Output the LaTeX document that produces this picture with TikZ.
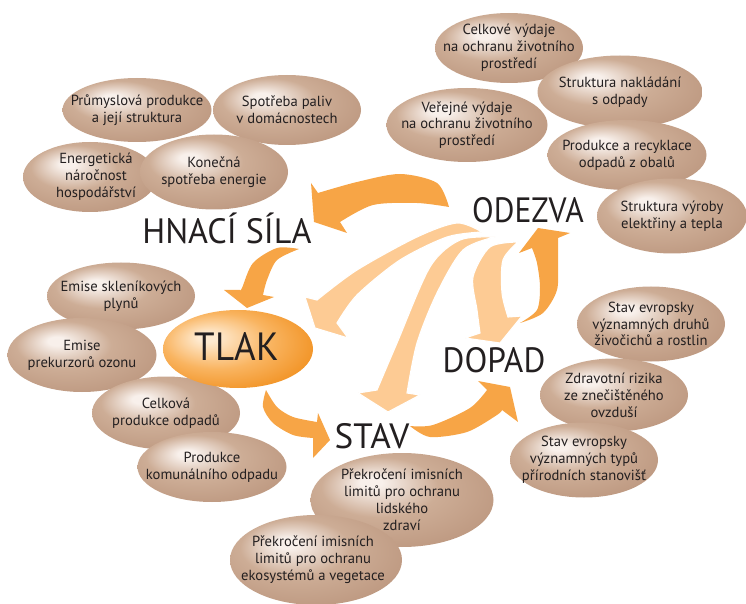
\documentclass[tikz,border=0pt]{standalone}
\usepackage{fontspec}
\setmainfont{PT Sans}
\definecolor{inkdark}{HTML}{231F20}
\definecolor{beadlight}{HTML}{F8F0EB}
\definecolor{beadmid}{HTML}{CDAD96}
\definecolor{beaddark}{HTML}{BD9880}
\definecolor{tlaklight}{HTML}{FEEAD0}
\definecolor{tlakmid}{HTML}{F9B460}
\definecolor{tlakdark}{HTML}{F08C18}
\definecolor{arrowdark}{HTML}{F7A546}
\definecolor{arrowlight}{HTML}{FDCB94}
\pgfdeclareradialshading{beadshade}{\pgfpoint{-9bp}{10bp}}{color(0bp)=(beadlight); color(3bp)=(beadlight); color(16bp)=(beadmid); color(32bp)=(beaddark); color(50bp)=(beaddark)}
\pgfdeclareradialshading{tlakshade}{\pgfpoint{-11bp}{8bp}}{color(0bp)=(tlaklight); color(3bp)=(tlaklight); color(18bp)=(tlakmid); color(34bp)=(tlakdark); color(50bp)=(tlakdark)}
\begin{document}
\begin{tikzpicture}[x=0.025cm, y=-0.025cm,
        beadtext/.style={align=center, font=\fontsize{10.4}{12}\selectfont,
            text=inkdark, inner sep=0pt},
        stage/.style={anchor=base, inner sep=0pt, text=inkdark,
            font=\fontsize{25}{25}\selectfont},
        darkarrow/.style={fill=arrowdark},
        lightarrow/.style={fill=arrowlight, draw=white, line width=0.8pt}
      ]
      \useasboundingbox (0,0) rectangle (746,604);
      \fill[darkarrow] plot[smooth] coordinates {(449,207) (437,183) (400,174) (357,182) (318,193)}
          -- (311,183) -- (314,222) -- (347,233)
          -- plot[smooth] coordinates {(340,222) (373,205) (417,203) (449,207)} -- cycle;
      \fill[darkarrow] plot[smooth] coordinates {(299,249) (277,248) (253,263) (242,288) (240,290)}
          -- (224,290) -- (247,308) -- (274,297)
          -- plot[smooth] coordinates {(263,295) (267,280) (277,260) (299,249)} -- cycle;
      \fill[darkarrow] plot[smooth] coordinates {(266,390) (263,407) (273,423) (293,435) (313,438)}
          -- (313,458) -- (330,440) -- (318,413)
          -- plot[smooth] coordinates {(317,422) (293,417) (277,407) (266,390)} -- cycle;
      \fill[darkarrow] plot[smooth] coordinates {(410,426) (430,437) (467,432) (497,415) (502,410)}
          -- (518,422) -- (510,387) -- (478,381)
          -- plot[smooth] coordinates {(487,390) (470,408) (433,425) (410,426)} -- cycle;
      \fill[darkarrow] plot[smooth] coordinates {(520,323) (543,313) (557,290) (558,260) (558,238)}
          -- (570,233) -- (538,228) -- (519,253)
          -- plot[smooth] coordinates {(532,248) (537,263) (540,287) (537,310) (520,323)} -- cycle;
      \filldraw[lightarrow] plot[smooth] coordinates {(518,242) (490,247) (473,277) (477,310) (480,333)}
          -- (465,338) -- (500,343) -- (522,316)
          -- plot[smooth] coordinates {(508,317) (502,293) (503,260) (518,242)} -- cycle;
      \filldraw[lightarrow] plot[smooth] coordinates {(495,237) (460,240) (430,267) (397,343) (377,390)}
          -- (358,393) -- (388,412) -- (420,395)
          -- plot[smooth] coordinates {(407,393) (417,343) (437,293) (463,250) (495,237)} -- cycle;
      \filldraw[lightarrow] plot[smooth] coordinates {(482,232) (457,223) (417,237) (357,270) (317,300)}
          -- (305,297) -- (315,328) -- (348,338)
          -- plot[smooth] coordinates {(337,323) (357,295) (400,260) (447,237) (482,232)} -- cycle;
      \foreach \nm/\cx/\cy/\tx/\w/\h/\txt in {
          prumysl/137/110/0/149/64/{Průmyslová produkce\\a její struktura},
          paliva/287/110/0/148/70/{Spotřeba paliv\\v domácnostech},
          narocnost/90/177/6/134/70/{Energetická\\náročnost\\hospodářství},
          konecna/214/172/0/148/75/{Konečná\\spotřeba energie},
          celkvydaje/509/48/0/148/70/{Celkové výdaje\\na ochranu životního\\prostředí},
          nakladani/620/92/0/165/73/{Struktura nakládání\\s odpady},
          verejne/467/125/0/161/74/{Veřejné výdaje\\na ochranu životního\\prostředí},
          obaly/627/155/0/159/70/{Produkce a recyklace\\odpadů z obalů},
          elektrina/672/216/0/150/75/{Struktura výroby\\elektřiny a tepla},
          sklenik/121/296/0/148/67/{Emise skleníkových\\plynů},
          ozon/82/355/0/149/74/{Emise\\prekurzorů ozonu},
          odpady/166/413/0/148/73/{Celková\\produkce odpadů},
          komunal/212/467/0/149/70/{Produkce\\komunálního odpadu},
          druhy/651/324/0/148/75/{Stav evropsky\\významných druhů\\živočichů a rostlin},
          rizika/614/395/0/148/73/{Zdravotní rizika\\ze znečištěného\\ovzduší},
          stanoviste/584/460/0/148/75/{Stav evropsky\\významných typů\\přírodních stanovišť},
          limzdravi/402/500/0/183/94/{Překročení imisních\\limitů pro ochranu\\lidského\\zdraví},
          limeko/316/560/-3/172/90/{Překročení imisních\\limitů pro ochranu\\ekosystémů a vegetace}}{
          \shade[shading=beadshade] (\cx,\cy) ellipse [x radius=\w/2, y radius=\h/2];
          \node[beadtext] (\nm) at (\cx+\tx,\cy) {\txt};
        }
      \shade[shading=tlakshade] (238,349) ellipse [x radius=75, y radius=39];
      \node[stage, font=\fontsize{28}{28}\selectfont] (tlak) at (237,360) {\scalebox{0.94}[1]{TLAK}};
      \node[stage] (hnaci) at (227,243) {\scalebox{0.97}[1]{HNACÍ SÍLA}};
      \node[stage] (odezva) at (528,223) {\scalebox{0.9}[1]{ODEZVA}};
      \node[stage] (dopad) at (494,372) {\scalebox{0.95}[1]{DOPAD}};
      \node[stage] (stav) at (372,448) {STAV};
    \end{tikzpicture}
\end{document}
